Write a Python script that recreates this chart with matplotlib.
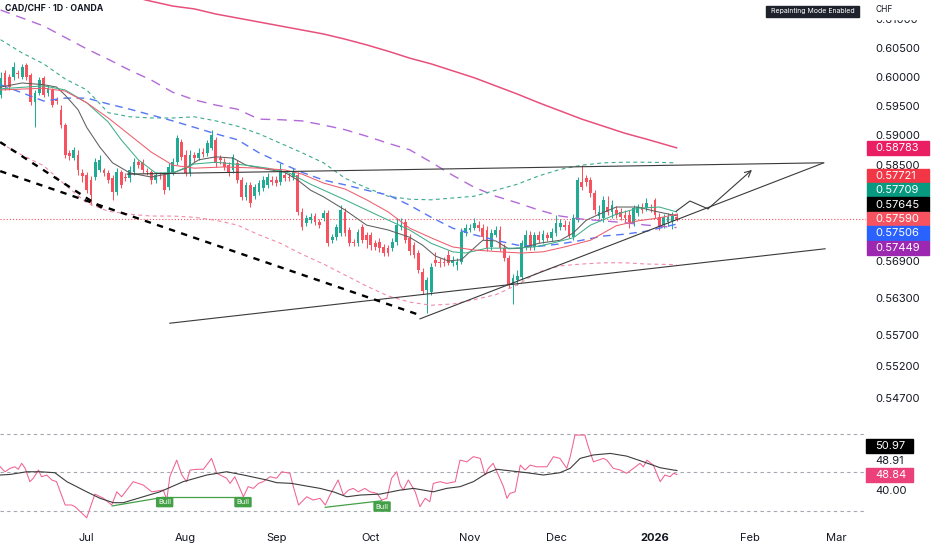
import matplotlib
matplotlib.use("Agg")
import matplotlib.pyplot as plt
from matplotlib.patches import Rectangle
from matplotlib.ticker import NullLocator, NullFormatter, FixedLocator, FixedFormatter
import numpy as np

plt.rcParams['font.family'] = ['Inter', 'DejaVu Sans']

# ---------------- data ----------------
first_bar = -20          # bar index of first visible candle (0 = 1 Jul 2025)
opens = [.5968,.6006,.5999,.5999,.6006,.5999,.6020,.6003,.5956,.5972,
         .5998,.5972,.5977,.5962,.5943,.5917,.5870,.5861,.5866,.5836,
         .5832,.5824,.5829,.5841,.5841,.5836,.5827,.5804,.5837,.5829,
         .5827,.5837,.5854,.5854,.5839,.5837,.5824,.5832,.5832,.5812,
         .5837,.5854,.5888,.5866,.5836,.5866,.5861,.5871,.5870,.5878,
         .5892,.5861,.5854,.5849,.5841,.5853,.5824,.5796,.5816,.5797,
         .5804,.5811,.5816,.5824,.5824,.5821,.5832,.5829,.5829,.5832,
         .5771,.5753,.5757,.5764,.5754,.5761,.5769,.5724,.5729,.5736,
         .5771,.5741,.5721,.5719,.5746,.5733,.5733,.5719,.5721,.5713,
         .5711,.5711,.5721,.5746,.5754,.5728,.5716,.5703,.5672,.5643,
         .5640,.5692,.5688,.5688,.5700,.5687,.5684,.5688,.5736,.5741,
         .5744,.5749,.5744,.5741,.5713,.5733,.5741,.5711,.5695,.5651,
         .5659,.5664,.5713,.5733,.5713,.5733,.5724,.5733,.5728,.5736,
         .5746,.5749,.5749,.5729,.5757,.5821,.5827,.5824,.5802,.5764,
         .5761,.5779,.5771,.5774,.5771,.5766,.5766,.5753,.5769,.5779,
         .5777,.5778,.5791,.5762,.5749,.5754,.5756,.5762]
closes = [.5998,.5982,.5982,.6017,.6005,.6017,.5999,.5956,.5972,.5994,
          .5968,.5980,.5951,.5958,.5917,.5866,.5865,.5875,.5841,.5831,
          .5807,.5799,.5854,.5858,.5836,.5824,.5804,.5837,.5816,.5827,
          .5841,.5854,.5849,.5841,.5837,.5824,.5832,.5831,.5807,.5846,
          .5854,.5895,.5863,.5836,.5866,.5861,.5870,.5868,.5886,.5900,
          .5853,.5858,.5846,.5836,.5863,.5824,.5796,.5816,.5786,.5812,
          .5819,.5824,.5829,.5821,.5819,.5841,.5827,.5827,.5837,.5771,
          .5746,.5761,.5762,.5754,.5749,.5769,.5719,.5729,.5746,.5774,
          .5736,.5719,.5719,.5738,.5724,.5724,.5716,.5713,.5711,.5703,
          .5703,.5721,.5749,.5749,.5724,.5706,.5700,.5675,.5641,.5659,
          .5680,.5687,.5687,.5687,.5687,.5692,.5688,.5738,.5744,.5744,
          .5753,.5744,.5729,.5711,.5736,.5741,.5711,.5695,.5651,.5662,
          .5666,.5719,.5733,.5713,.5733,.5724,.5734,.5728,.5738,.5753,
          .5753,.5746,.5733,.5761,.5824,.5812,.5821,.5802,.5774,.5771,
          .5791,.5771,.5782,.5766,.5762,.5761,.5754,.5777,.5779,.5774,
          .5786,.5777,.5766,.5746,.5762,.5762,.5764,.5759]
highs = [.6008,.6011,.6005,.6025,.6011,.6022,.6023,.6006,.5977,.5999,
         .6001,.5986,.5980,.5965,.5951,.5920,.5875,.5880,.5875,.5842,
         .5837,.5831,.5861,.5866,.5844,.5841,.5832,.5844,.5841,.5836,
         .5848,.5861,.5858,.5860,.5844,.5841,.5837,.5837,.5837,.5853,
         .5861,.5900,.5893,.5875,.5875,.5871,.5878,.5878,.5892,.5909,
         .5897,.5866,.5861,.5854,.5868,.5858,.5829,.5821,.5821,.5817,
         .5824,.5831,.5836,.5831,.5831,.5853,.5839,.5836,.5844,.5837,
         .5777,.5766,.5769,.5769,.5759,.5774,.5774,.5734,.5751,.5782,
         .5777,.5746,.5726,.5743,.5751,.5738,.5738,.5724,.5728,.5718,
         .5716,.5728,.5761,.5761,.5759,.5734,.5721,.5708,.5679,.5664,
         .5687,.5705,.5695,.5697,.5708,.5698,.5695,.5744,.5751,.5751,
         .5761,.5756,.5751,.5748,.5743,.5748,.5748,.5718,.5700,.5669,
         .5675,.5724,.5741,.5739,.5738,.5739,.5741,.5738,.5744,.5766,
         .5759,.5757,.5756,.5767,.5829,.5849,.5832,.5829,.5807,.5782,
         .5797,.5797,.5791,.5781,.5777,.5774,.5774,.5782,.5784,.5786,
         .5794,.5784,.5794,.5769,.5767,.5769,.5771,.5769]
lows = [.5963,.5977,.5977,.5994,.5998,.5996,.5994,.5951,.5913,.5968,
        .5965,.5967,.5948,.5953,.5912,.5861,.5858,.5858,.5832,.5821,
        .5802,.5782,.5824,.5837,.5831,.5819,.5791,.5799,.5811,.5822,
        .5821,.5832,.5844,.5836,.5832,.5817,.5819,.5826,.5801,.5807,
        .5832,.5849,.5858,.5831,.5831,.5854,.5858,.5863,.5865,.5875,
        .5846,.5851,.5841,.5831,.5836,.5819,.5791,.5791,.5779,.5792,
        .5799,.5806,.5811,.5816,.5814,.5816,.5822,.5822,.5824,.5766,
        .5741,.5748,.5753,.5749,.5744,.5756,.5714,.5719,.5724,.5731,
        .5731,.5714,.5714,.5714,.5719,.5711,.5708,.5708,.5705,.5698,
        .5698,.5706,.5716,.5741,.5719,.5700,.5695,.5670,.5636,.5605,
        .5635,.5682,.5680,.5682,.5684,.5682,.5675,.5685,.5731,.5738,
        .5741,.5739,.5724,.5706,.5708,.5729,.5706,.5690,.5646,.5620,
        .5651,.5659,.5708,.5708,.5708,.5719,.5719,.5723,.5723,.5731,
        .5741,.5741,.5728,.5724,.5754,.5807,.5814,.5796,.5767,.5759,
        .5754,.5766,.5761,.5761,.5757,.5754,.5744,.5748,.5764,.5769,
        .5772,.5771,.5761,.5741,.5744,.5748,.5743,.5756]

# long moving average (solid pink)
ma200_x = [5, 13.5, 20, 25, 30, 35, 40, 45, 50, 55, 60, 65, 70, 75, 80, 85, 90, 95,
           100, 105, 110, 115, 120, 125, 130, 137]
ma200_y = [0.6157, 0.6134, 0.6123, 0.6118, 0.6109, 0.6102, 0.6095, 0.6088, 0.6081,
           0.6074, 0.6065, 0.6055, 0.6044, 0.6032, 0.6022, 0.6010, 0.5998, 0.5984,
           0.5970, 0.5955, 0.5941, 0.5927, 0.5915, 0.5903, 0.5893, 0.58783]
# purple dashed
purple_x = [-20, -10, 0, 5, 10, 15, 20, 25, 30, 35, 40, 45, 50, 55, 60, 65, 70, 75, 80,
            85, 90, 95, 100, 105, 110, 115, 120, 125, 130, 137]
purple_y = [0.6116, 0.6088, 0.6048, 0.6030, 0.6011, 0.5994, 0.5973, 0.5960, 0.5951,
            0.5944, 0.5927, 0.5926, 0.5924, 0.5917, 0.5909, 0.5898, 0.5886, 0.5875,
            0.5854, 0.5832, 0.5812, 0.5797, 0.5786, 0.5774, 0.5764, 0.5759, 0.5756,
            0.5753, 0.5749, 0.57449]
# bands / blue dashed share sample bars
band_x = [-20, -15, -10, -5, 0, 5, 10, 15, 20, 25, 30, 35, 40, 45, 50, 55, 60, 65, 70,
          75, 80, 85, 90, 95, 100, 105, 110, 115, 120, 125, 130, 137]
upper_band = [0.6064, 0.6041, 0.6022, 0.5996, 0.5977, 0.5938, 0.5931, 0.5929, 0.5929,
              0.5931, 0.5924, 0.5915, 0.5902, 0.5886, 0.5870, 0.5853, 0.5827, 0.5811,
              0.5797, 0.5792, 0.5791, 0.5794, 0.5797, 0.5807, 0.5817, 0.5831, 0.5842,
              0.5849, 0.5853, 0.5854, 0.5854, 0.5853]
lower_band = [0.5886, 0.5866, 0.5848, 0.5816, 0.5786, 0.5772, 0.5767, 0.5764, 0.5764,
              0.5762, 0.5757, 0.5749, 0.5733, 0.5719, 0.5701, 0.5685, 0.5667, 0.5649,
              0.5633, 0.5623, 0.5618, 0.5620, 0.5627, 0.5635, 0.5651, 0.5672, 0.5682,
              0.5685, 0.5687, 0.5687, 0.5685, 0.5684]
blue_line = [0.5986, 0.5972, 0.5958, 0.5963, 0.5963, 0.5953, 0.5944, 0.5934, 0.5924,
             0.5913, 0.5902, 0.5892, 0.5870, 0.5853, 0.5837, 0.5824, 0.5816, 0.5807,
             0.5799, 0.5782, 0.5762, 0.5744, 0.5733, 0.5724, 0.5716, 0.5714, 0.5718,
             0.5724, 0.5731, 0.5734, 0.5739, 0.57506]
# fast / medium / slow solid averages
gray_x = [-20, -15, -10, -7, -5, -2, 0, 3, 6, 10, 15, 20, 23, 26, 30, 34, 37, 42, 46, 49,
          52, 55, 60, 65, 70, 75, 78, 81, 84, 87, 89, 92, 95, 98, 101, 105, 110, 113, 116,
          119, 123, 128, 132, 137]
gray_y = [0.5982, 0.5989, 0.5986, 0.5982, 0.5968, 0.5943, 0.5913, 0.5880, 0.5853, 0.5836,
          0.5829, 0.5836, 0.5844, 0.5858, 0.5863, 0.5861, 0.5849, 0.5842, 0.5837, 0.5824,
          0.5807, 0.5796, 0.5774, 0.5749, 0.5741, 0.5729, 0.5716, 0.5698, 0.5690, 0.5692,
          0.5705, 0.5724, 0.5723, 0.5710, 0.5711, 0.5719, 0.5724, 0.5736, 0.5757, 0.5767,
          0.5779, 0.5779, 0.5772, 0.57645]
green_x = [-20, -10, -5, 0, 5, 8, 12, 16, 20, 25, 30, 37, 42, 47, 52, 60, 68, 75, 80, 85,
           88, 93, 99, 104, 108, 113, 117, 123, 128, 133, 137]
green_y = [0.5979, 0.5984, 0.5977, 0.5955, 0.5922, 0.5892, 0.5858, 0.5836, 0.5836, 0.5851,
           0.5854, 0.5849, 0.5844, 0.5836, 0.5817, 0.5791, 0.5764, 0.5741, 0.5719, 0.5705,
           0.5703, 0.5711, 0.5711, 0.5713, 0.5719, 0.5728, 0.5749, 0.5767, 0.5777, 0.5779,
           0.57709]
red_x = [-20, -10, -5, 0, 5, 10, 15, 20, 25, 32, 40, 46, 50, 55, 60, 65, 70, 75, 80, 85,
         90, 96, 101, 106, 111, 117, 123, 128, 133, 137]
red_y = [0.5977, 0.5980, 0.5975, 0.5955, 0.5929, 0.5900, 0.5871, 0.5849, 0.5844, 0.5846,
         0.5844, 0.5841, 0.5834, 0.5819, 0.5809, 0.5791, 0.5771, 0.5744, 0.5728, 0.5713,
         0.5708, 0.5705, 0.5703, 0.5705, 0.5713, 0.5724, 0.5748, 0.5756, 0.5761, 0.5767]

# drawn trend lines (bar index, price)
upper_tl = ([9.4, 171.0], [0.5834, 0.5853])
rising_tl = ([77.4, 171.2], [0.5596, 0.5853])
lower_tl = ([19.3, 171.5], [0.5589, 0.5710])
down_dash_1 = ([-20.1, 77.4], [0.5839, 0.5602])
down_dash_2 = ([-20.1, 4.3], [0.5888, 0.5774])
proj_x = [136.9, 140.1, 144.3, 154.5]
proj_y = [0.5772, 0.5789, 0.5776, 0.5841]

# right-axis price boxes
box_values = [0.58783, 0.57721, 0.57709, 0.57645, 0.57590, 0.57506, 0.57449]
box_colors = ['#E91E63', '#F23645', '#089981', '#000000', '#F7525F', '#2962FF', '#9C27B0']
box_slot = [None, -3, -2, -1, 0, 1, 2]   # stacking order around the last price

price_ticks = [0.610, 0.605, 0.600, 0.595, 0.590, 0.585, 0.569, 0.563, 0.557, 0.552, 0.547]

# RSI
rsi_x = [-20.1, -19, -17.8, -16.7, -15.9, -15.1, -14.3, -13.2, -12.4, -11.2,
         -10.5, -9.3, -8.1, -7.0, -5.0, -3.5, -2.7, 0, 1.9, 3.9,
         5.8, 7.0, 8.1, 10.8, 13.1, 15.1, 17.8, 18.6, 19.3, 20.9,
         22.1, 23.2, 24.0, 25.6, 27.1, 29.0, 30.2, 32.5, 33.3, 34.4,
         36.4, 37.5, 38.7, 39.9, 41.0, 42.6, 44.1, 45.3, 47.2, 48.0,
         49.2, 51.1, 52.6, 54.2, 55.4, 56.5, 58.4, 59.6, 60.8, 61.9,
         63.1, 64.6, 65.8, 67.4, 68.5, 69.7, 70.8, 72.0, 72.8, 73.5,
         74.7, 76.3, 77.4, 78.6, 79.7, 80.5, 82.1, 83.6, 85.6, 86.7,
         88.3, 89.8, 91.4, 92.5, 93.3, 94.4, 95.6, 96.8, 97.6, 98.3,
         99.5, 100.7, 101.8, 103.0, 104.5, 106.9, 108.4, 109.9, 111.5, 112.3,
         113.4, 115.7, 116.5, 117.7, 120.0, 120.8, 122.3, 123.9, 125.4, 127.0,
         128.5, 129.3, 130.1, 131.6, 133.2, 134.3, 135.5, 136.3, 137.1]
rsi_v = [52.9, 50.3, 52.1, 52.9, 51.6, 54.7, 52.1, 45.1, 46.9, 51.2,
         47.7, 48.6, 46.0, 45.1, 32.9, 32.9, 32.0, 26.2, 38.6, 36.4,
         32.9, 39.8, 37.2, 45.1, 43.4, 39.8, 40.7, 35.5, 47.7, 56.4,
         48.6, 45.1, 51.2, 51.6, 51.6, 57.3, 49.5, 46.9, 44.2, 47.7,
         37.2, 42.5, 41.6, 44.2, 45.1, 47.7, 46.9, 50.3, 49.5, 42.5,
         32.9, 37.2, 35.5, 36.4, 32.9, 38.1, 46.0, 38.1, 40.7, 41.6,
         39.8, 41.6, 39.8, 39.0, 35.5, 36.4, 46.9, 50.3, 43.4, 40.7,
         46.0, 39.8, 32.0, 36.4, 34.6, 44.2, 45.1, 44.2, 45.1, 56.4,
         55.5, 58.2, 57.3, 48.6, 52.1, 54.7, 48.6, 42.5, 36.4, 39.0,
         39.8, 53.8, 51.2, 53.8, 52.9, 52.9, 58.2, 57.3, 52.1, 58.2,
         69.5, 69.5, 63.4, 55.5, 57.3, 56.4, 52.1, 51.2, 49.5, 52.1,
         54.7, 52.9, 56.4, 53.8, 45.1, 48.6, 47.7, 49.5, 48.84]
rma_x = [-20.1, -17.8, -13.9, -10.8, -7.4, -4.6, 0, 3.1, 6.2, 8.5,
         13.1, 17.0, 22.4, 27.9, 32.5, 36.4, 41.8, 44.1, 47.6, 51.1,
         54.2, 57.3, 60.4, 63.5, 68.1, 72.8, 75.9, 80.5, 83.6, 86.7,
         89.8, 92.9, 95.2, 98.3, 102.2, 106.1, 109.9, 112.3, 114.6, 117.7,
         121.6, 125.4, 129.3, 133.2, 136.3, 137.1]
rma_v = [48.6, 48.9, 50.3, 50.3, 49.8, 45.1, 39.8, 36.4, 34.1, 34.1,
         37.2, 39.8, 45.1, 48.6, 50.3, 48.6, 46.0, 44.6, 44.2, 42.8,
         41.6, 39.8, 37.2, 38.1, 38.6, 40.7, 41.6, 39.8, 41.6, 42.5,
         45.1, 49.5, 51.6, 50.8, 49.8, 48.6, 49.8, 52.1, 57.3, 59.1,
         59.9, 58.5, 55.5, 52.4, 51.2, 50.97]
rsi_levels = [70, 50, 30]
rsi_other_value = 48.91
rsi_axis_value = 40.00
bull_lines = [([5.9, 17.7], [32.4, 36.9]),
              ([17.8, 36.4], [37.2, 37.2]),
              ([55.4, 68.5], [31.7, 35.1])]
bull_labels = [(18.1, 34.4), (36.3, 34.4), (68.6, 32.1)]

month_bars = [0, 23, 44, 66, 89, 109, 132, 154, 174]
month_labels = ['Jul', 'Aug', 'Sep', 'Oct', 'Nov', 'Dec', '2026', 'Feb', 'Mar']

# ---------------- figure ----------------
W, H = 932, 550
fig = plt.figure(figsize=(W / 100, H / 100), dpi=100)
fig.patch.set_facecolor('white')


def fx(px):
    return px / W


def fy(py):
    return 1 - py / H


ax = fig.add_axes([0, fy(420), fx(866), 420 / H])
axr = fig.add_axes([0, fy(522), fx(866), 98 / H], sharex=ax)

UP, DOWN = '#22AB94', '#F7525F'
TXT = '#131722'

o = np.array(opens); c = np.array(closes); h = np.array(highs); l = np.array(lows)
bars = np.arange(first_bar, first_bar + len(c))
cols = np.where(c >= o, UP, DOWN)
ax.vlines(bars, l, h, colors=cols, lw=0.75, zorder=2)
ax.bar(bars, np.maximum(np.abs(c - o), 0.00003), bottom=np.minimum(o, c), width=0.64,
       color=cols, lw=0, zorder=2.1)

ax.axhline(c[-1], color='#F7525F', lw=0.8, ls=(0, (1, 1.8)), zorder=1.5)

ax.plot(ma200_x, ma200_y, color='#E8507C', lw=1.1, zorder=3)
ax.plot(purple_x, purple_y, color='#B36AD8', lw=1.0, ls=(0, (7, 5)), zorder=3)
ax.plot(band_x, upper_band, color='#3DAA8F', lw=0.8, ls=(0, (3.5, 3)), zorder=3)
ax.plot(band_x, lower_band, color='#F28CA8', lw=0.8, ls=(0, (3.5, 3)), zorder=3)
ax.plot(band_x, blue_line, color='#5577F5', lw=1.0, ls=(0, (5.5, 4)), zorder=3)
ax.plot(gray_x, gray_y, color='#5E5E5E', lw=0.75, zorder=3)
ax.plot(green_x, green_y, color='#3FAF8A', lw=0.75, zorder=3)
ax.plot(red_x, red_y, color='#EE5D6C', lw=0.75, zorder=3)

TL = '#3A3A3A'
for xs, ys in (upper_tl, rising_tl, lower_tl):
    ax.plot(xs, ys, color=TL, lw=0.8, zorder=3.5)
for xs, ys in (down_dash_1, down_dash_2):
    ax.plot(xs, ys, color='black', lw=1.7, ls=(0, (2.7, 2.7)), zorder=3.5)
ax.plot(proj_x[:-1], proj_y[:-1], color=TL, lw=0.8, zorder=3.5)
ax.annotate('', xy=(proj_x[-1], proj_y[-1]), xytext=(proj_x[-2], proj_y[-2]),
            arrowprops=dict(arrowstyle='->', color=TL, lw=0.8, mutation_scale=11,
                            shrinkA=0, shrinkB=0), zorder=3.5)

ax.set_xlim(-20.14, 181.0)
ax.set_yscale('log')
ax.set_ylim(0.54355, 0.61337)
ax.yaxis.set_major_locator(FixedLocator(price_ticks))
ax.yaxis.set_major_formatter(FixedFormatter(['%.5f' % p for p in price_ticks]))
ax.yaxis.set_minor_locator(NullLocator())
ax.yaxis.set_minor_formatter(NullFormatter())
ax.yaxis.tick_right()
ax.tick_params(axis='y', length=0, pad=6.5, labelsize=8, labelcolor=TXT)
ax.tick_params(axis='x', length=0, labelbottom=False)
for s in ax.spines.values():
    s.set_visible(False)

# RSI pane
for lv in rsi_levels:
    axr.axhline(lv, color='#A3A6AF', lw=0.8, ls=(0, (3, 3)))
axr.plot(rsi_x, rsi_v, color='#F06292', lw=0.75, zorder=3)
axr.plot(rma_x, rma_v, color='#3C3C3C', lw=0.8, zorder=3)
for xs, ys in bull_lines:
    axr.plot(xs, ys, color='#43A047', lw=0.9, zorder=3)
for bx, by in bull_labels:
    axr.text(bx, by, 'Bull', fontsize=5.3, color='white', ha='center', va='center',
             zorder=4, bbox=dict(boxstyle='round,pad=0.3,rounding_size=0.15',
                                 fc='#43A047', ec='none'))
axr.set_ylim(24.0, 75.3)
axr.set_yticks([])
axr.set_xticks(month_bars)
axr.set_xticklabels(month_labels)
axr.tick_params(axis='x', length=0, pad=8, labelsize=8, labelcolor=TXT)
axr.get_xticklabels()[6].set_fontweight('bold')
for s in axr.spines.values():
    s.set_visible(False)


def disp_py(axis, val):
    return H - axis.transData.transform((0, val))[1]


# price boxes
last_py = disp_py(ax, c[-1])
for v, col, slot in zip(box_values, box_colors, box_slot):
    cy = disp_py(ax, v) if slot is None else last_py + slot * 14.4
    fig.add_artist(Rectangle((fx(867), fy(cy + 7.2)), 62 / W, 14.4 / H,
                             transform=fig.transFigure, color=col, zorder=5))
    fig.text(fx(875), fy(cy), '%.5f' % v, color='white', fontsize=8,
             ha='left', va='center', zorder=6)

# RSI right labels
def rsi_box(val, cy, col):
    fig.add_artist(Rectangle((fx(866), fy(cy + 6.7)), 47 / W, 13.4 / H,
                             transform=fig.transFigure, color=col, zorder=5))
    fig.text(fx(875), fy(cy), '%.2f' % val, color='white', fontsize=8,
             ha='left', va='center', zorder=6)

rsi_box(rma_v[-1], 446.0, '#000000')
fig.text(fx(875), fy(460.7), '%.2f' % rsi_other_value, color=TXT, fontsize=8,
         ha='left', va='center')
rsi_box(rsi_v[-1], 475.0, '#EC407A')
fig.text(fx(875), fy(disp_py(axr, rsi_axis_value)), '%.2f' % rsi_axis_value, color=TXT,
         fontsize=8, ha='left', va='center')

# header items (the header strip hides the top of the highest price label)
fig.add_artist(Rectangle((fx(868), fy(18.5)), 64 / W, 18.5 / H,
                         transform=fig.transFigure, color='white', zorder=5))
fig.text(fx(875), fy(9.5), 'CHF', color=TXT, fontsize=6, ha='left', va='center', zorder=6)
fig.add_artist(Rectangle((fx(766), fy(17)), 93 / W, 11.5 / H,
                         transform=fig.transFigure, color='#1E222D', zorder=5))
fig.text(fx(812.5), fy(11.2), 'Repainting Mode Enabled', color='white', fontsize=5,
         ha='center', va='center', zorder=6)
fig.text(fx(5), fy(9), 'CAD/CHF · 1D · OANDA', color=TXT, fontsize=6.3,
         weight='bold', ha='left', va='center', zorder=6)

fig.savefig('out.png', dpi=100, facecolor='white')
